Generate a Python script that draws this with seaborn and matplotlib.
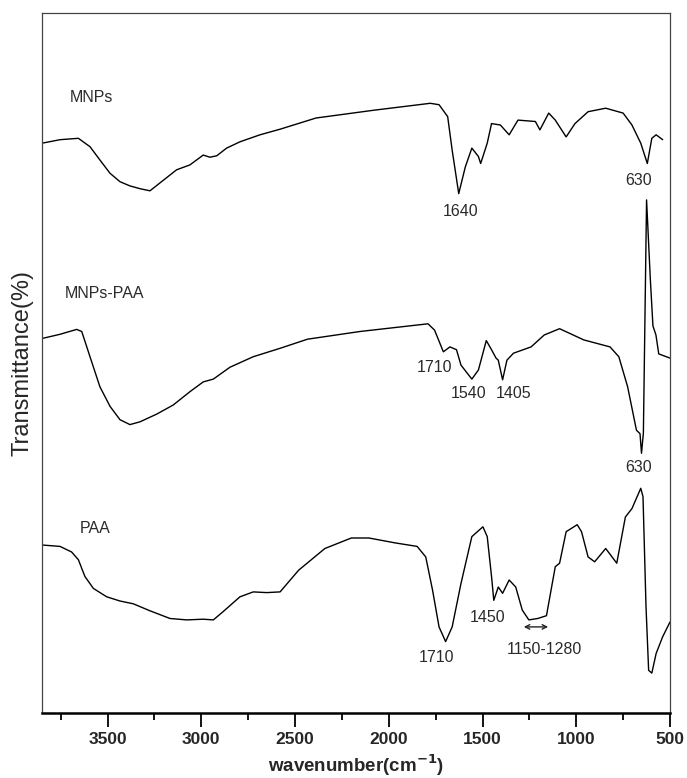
import numpy as np
import pandas as pd
import matplotlib
matplotlib.use("Agg")
import matplotlib.pyplot as plt
import seaborn as sns
from matplotlib.ticker import MultipleLocator

# ---- data (wavenumber cm^-1, transmittance in arbitrary offset units) ----
wn_mnps = [3850, 3754, 3656, 3594, 3541, 3487, 3434, 3381, 3327, 3274, 3203, 3132, 3061,
           2990, 2954, 2918, 2865, 2794, 2687, 2580, 2388, 2083, 1779, 1732,
           1686, 1662, 1627, 1592, 1557, 1522, 1510, 1475, 1452, 1405, 1358, 1311, 1218,
           1194, 1147, 1112, 1054, 1007, 937, 843, 750, 703, 656, 621, 597, 574, 539]
t_mnps = [81.4, 81.9, 82.1, 80.9, 79.0, 77.1, 75.9, 75.3, 74.9, 74.6, 76.1, 77.6, 78.3,
          79.7, 79.4, 79.6, 80.7, 81.6, 82.6, 83.4, 85.0, 86.1, 87.1, 86.9,
          85.2, 80.4, 74.2, 78.0, 80.7, 79.5, 78.5, 81.4, 84.2, 84.0, 82.6, 84.7, 84.5,
          83.3, 85.7, 84.7, 82.3, 84.2, 85.9, 86.4, 85.7, 84.0, 81.4, 78.5, 82.1, 82.6, 81.9]

wn_mpaa = [3850, 3754, 3665, 3638, 3594, 3541, 3487, 3434, 3381, 3327, 3238, 3150, 3061,
           2990, 2936, 2847, 2723, 2580, 2434,
           2154, 1791, 1756, 1709, 1674, 1639, 1615, 1557, 1522, 1480, 1452, 1428, 1416,
           1393, 1370, 1335, 1241, 1171, 1089, 960, 820, 773, 726, 679, 660, 652, 642,
           625, 605, 591, 575, 560, 530, 500]
t_mpaa = [53.5, 54.1, 54.8, 54.5, 50.9, 46.6, 43.8, 41.9, 41.2, 41.6, 42.7, 44.0, 45.9,
          47.3, 47.7, 49.4, 50.9, 52.1, 53.4,
          54.5, 55.6, 54.7, 51.6, 52.3, 51.9, 49.7, 47.7, 49.0, 53.2, 51.9, 50.7, 50.4,
          47.6, 50.4, 51.4, 52.3, 54.0, 54.9, 53.3, 52.3, 50.9, 46.6, 40.4, 39.9, 37.1, 40.0,
          73.3, 62.0, 55.3, 54.0, 51.3, 51.0, 50.7]

wn_paa = [3850, 3754, 3692, 3656, 3621, 3576, 3505, 3434, 3363, 3274, 3167, 3078, 2990,
          2936, 2883, 2794, 2723, 2651, 2580, 2481, 2341, 2200, 2106, 1966, 1849, 1803,
          1767, 1732, 1697, 1662, 1615,
          1557, 1498, 1475, 1452, 1440, 1416, 1393, 1358, 1323, 1288, 1253, 1206, 1159,
          1112, 1089, 1054, 995, 972, 937, 902, 843, 784, 738, 703, 656, 644, 628, 614,
          597, 574, 539, 500]
t_paa = [24.0, 23.8, 23.0, 21.9, 19.5, 17.8, 16.6, 16.0, 15.6, 14.6, 13.5, 13.3, 13.4,
         13.3, 14.5, 16.6, 17.3, 17.2, 17.3, 20.4, 23.5, 25.0, 25.0, 24.3, 23.8, 22.3,
         17.6, 12.3, 10.2, 12.3, 18.5,
         25.2, 26.6, 25.2, 19.5, 16.1, 18.0, 17.1, 19.0, 18.0, 14.7, 13.3, 13.5, 13.9,
         20.9, 21.4, 25.9, 26.9, 25.9, 22.3, 21.6, 23.5, 21.4, 28.0, 29.2, 32.1, 30.9,
         15.2, 6.1, 5.7, 8.5, 10.9, 13.0]

labels = ["MNPs", "MNPs-PAA", "PAA"]
x_ticks = [3500, 3000, 2500, 2000, 1500, 1000, 500]

# annotations: (text, wavenumber, transmittance)
notes = [("MNPs", 3588, 88.0), ("1640", 1615, 71.6), ("630", 668, 76.1),
         ("MNPs-PAA", 3518, 60.0), ("1710", 1756, 49.3), ("1540", 1575, 45.7),
         ("1405", 1334, 45.7), ("630", 668, 35.0),
         ("PAA", 3569, 26.4), ("1710", 1744, 7.9), ("1450", 1475, 13.6),
         ("1150-1280", 1171, 9.0)]
arrow_span = (1280, 1150, 12.3)

frames = []
for name, w, t in [(labels[0], wn_mnps, t_mnps), (labels[1], wn_mpaa, t_mpaa),
                   (labels[2], wn_paa, t_paa)]:
    frames.append(pd.DataFrame({"wn": w, "T": t, "sample": name}))
df = pd.concat(frames, ignore_index=True)

sns.set_style("white")
plt.rcParams["font.family"] = ["Liberation Sans", "DejaVu Sans"]

fig = plt.figure(figsize=(6.87, 7.78), dpi=100)
ax = fig.add_axes([42 / 687, 65 / 778, 628 / 687, 700 / 778])

sns.lineplot(data=df, x="wn", y="T", units="sample", estimator=None, sort=False,
             color="black", linewidth=1.0, ax=ax, legend=False)

ax.set_xlim(3850, 500)
ax.set_ylim(0, 100)
ax.set_xticks(x_ticks)
ax.set_xticklabels([str(v) for v in x_ticks])
ax.xaxis.set_minor_locator(MultipleLocator(250))
ax.set_yticks([])
ax.tick_params(axis="x", which="major", direction="out", length=10, width=1.3,
               color="black", labelsize=12.5, pad=4, bottom=True)
ax.tick_params(axis="x", which="minor", direction="out", length=5, width=1.3,
               color="black", bottom=True)
for lab in ax.get_xticklabels():
    lab.set_fontweight("bold")

for side in ["left", "top", "right"]:
    ax.spines[side].set_color("#444444")
    ax.spines[side].set_linewidth(0.9)
ax.spines["bottom"].set_color("black")
ax.spines["bottom"].set_linewidth(1.8)

ax.set_xlabel("wavenumber(cm$^{\\mathbf{-1}}$)", fontsize=13.5, fontweight="bold",
              labelpad=4)
ax.set_ylabel("Transmittance(%)", fontsize=17, labelpad=6)

for txt, x, y in notes:
    ax.text(x, y, txt, fontsize=11.5, color="#2a2a2a", ha="center", va="center")

ax.annotate("", xy=(arrow_span[1], arrow_span[2]), xytext=(arrow_span[0], arrow_span[2]),
            arrowprops=dict(arrowstyle="<->", lw=1.0, color="#222222",
                            shrinkA=0, shrinkB=0, mutation_scale=8))

fig.savefig("out.png", dpi=100)
